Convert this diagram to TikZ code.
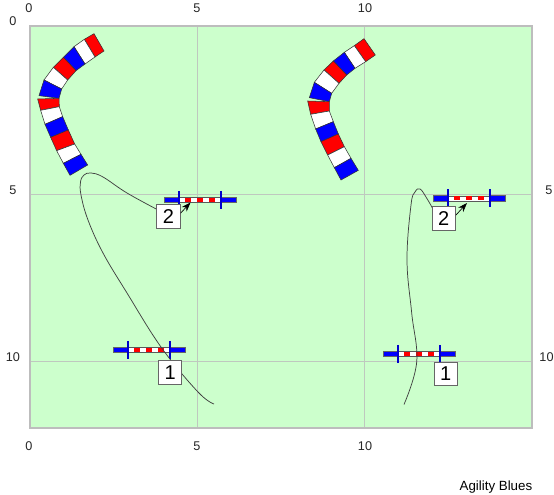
\documentclass[tikz,border=0pt]{standalone}
\usepackage{fontspec}
\setmainfont{Liberation Sans}
\usetikzlibrary{arrows.meta}

\definecolor{fieldgreen}{HTML}{CCFFCC}
\definecolor{gridgrey}{HTML}{BFC8BF}
\definecolor{framegrey}{HTML}{BDBDBD}

\tikzset{
  scale label/.style={font=\fontsize{9.5pt}{11pt}\selectfont, text=black!85, inner sep=0pt},
  number/.style={draw=black!60, fill=white, line width=.75pt, minimum size=17.5pt, inner sep=0pt,
    font=\fontsize{15pt}{17pt}\selectfont},
  course/.style={draw=black!75, line width=.55pt},
  lead/.style={-{Stealth[length=7pt,width=5pt]}, draw=black, line width=.5pt},
  segment/.style={draw=black!80, line width=.4pt},
  hurdle/.pic={
    % wings, bar and uprights, drawn from the left upright
    \fill[blue, draw=black!60, line width=.5pt] (-15,-2.7) rectangle (0,2.7);
    \fill[blue, draw=black!60, line width=.5pt] (42,-2.7) rectangle (57,2.7);
    \fill[white, draw=black!65, line width=.6pt] (0,-2.5) rectangle (42,2.5);
    \foreach \barx in {6,17.5,29.5}
      \fill[red] (\barx,-2) rectangle (\barx+6,2);
    \draw[blue!80!black, line width=1.6pt] (0,-9) -- (0,9);
    \draw[blue!80!black, line width=1.6pt] (42,-9) -- (42,9);
  }
}

\begin{document}
\begin{tikzpicture}[x=.75pt,y=-.75pt]
  \useasboundingbox (0,0) rectangle (554,495);

% the field and its grid
  \fill[fieldgreen] (30,26) rectangle (532,428);
  \draw[gridgrey, line width=.75pt] (197.5,26) -- (197.5,428) (364.5,26) -- (364.5,428)
        (30,194.5) -- (532,194.5) (30,361.5) -- (532,361.5);
  \draw[framegrey, line width=1.5pt] (30,26) rectangle (532.3,428.3);

% scale along the edges
  \foreach \tick/\tickx in {0/29,5/197,10/365}{
    \node[scale label] (top\tick) at (\tickx,8) {\tick};
    \node[scale label] (bottom\tick) at (\tickx,446) {\tick};
  }
  \foreach \tick/\ticky in {0/21,5/190,10/357}
    \node[scale label] (left\tick) at (13,\ticky) {\tick};
  \foreach \tick/\tickx/\ticky in {5/549/190,10/546.5/357}
    \node[scale label] (right\tick) at (\tickx,\ticky) {\tick};

% the tunnels, one segment at a time
  \begin{scope}[x=.25pt,y=-.25pt]
    \foreach \col/\pa/\pb/\pc/\pd in {
      red/{253,118}/{282,101}/{312,153}/{285,171},
      white/{222,140}/{253,118}/{285,171}/{255,192},
      blue/{190,172}/{222,140}/{255,192}/{228,212},
      red/{160,202}/{190,172}/{228,212}/{203,240},
      white/{132,240}/{160,202}/{203,240}/{185,267},
      blue/{117,287}/{132,240}/{185,267}/{177,295},
      red/{113,297}/{177,295}/{178,320}/{122,331},
      white/{122,331}/{178,320}/{188,350}/{135,373},
      blue/{135,373}/{188,350}/{205,390}/{152,412},
      red/{152,412}/{205,390}/{224,432}/{170,452},
      white/{170,452}/{224,432}/{243,463}/{190,490},
      blue/{190,490}/{243,463}/{263,495}/{210,526}}
      \filldraw[segment, fill=\col] (\pa) -- (\pb) -- (\pc) -- (\pd) -- cycle;
  \end{scope}
  \begin{scope}[shift={(295,25)},x=.25pt,y=-.25pt]
    \foreach \col/\pa/\pb/\pc/\pd in {
      red/{178,62}/{207,41}/{241,90}/{212,110},
      white/{148,82}/{178,62}/{212,110}/{180,130},
      blue/{115,108}/{148,82}/{180,130}/{155,150},
      red/{87,135}/{115,108}/{155,150}/{132,175},
      white/{58,172}/{87,135}/{132,175}/{110,205},
      blue/{43,218}/{58,172}/{110,205}/{103,230},
      red/{38,228}/{103,230}/{103,258}/{47,268},
      white/{47,268}/{103,258}/{115,290}/{62,312},
      blue/{62,312}/{115,290}/{130,327}/{78,350},
      red/{78,350}/{130,327}/{148,365}/{98,390},
      white/{98,390}/{148,365}/{168,400}/{118,428},
      blue/{118,428}/{168,400}/{190,436}/{138,465}}
      \filldraw[segment, fill=\col] (\pa) -- (\pb) -- (\pc) -- (\pd) -- cycle;
  \end{scope}

% the jumps
  \pic at (128,350) {hurdle};
  \pic at (179,200) {hurdle};
  \pic at (398,354) {hurdle};
  \pic at (448,198.5) {hurdle};

  \coordinate (startleft)  at (214,404);
  \coordinate (endleft)    at (160,211);
  \coordinate (startright) at (404,404.5);
  \coordinate (endright)   at (433,209);
  \coordinate (jumpleft)   at (190.5,202.5);
  \coordinate (jumpright)  at (467,203);

% define the course
  \draw[course] plot[smooth, tension=.65] coordinates {(startleft) (198,392)
    (161.7,348) (127,293) (103,253) (88,220) (81,195) (80.5,182) (84,175) (91,173)
    (103,177) (127,193) (endleft)};
  \draw[course] plot[smooth, tension=.65] coordinates {(startright) (416.7,362)
    (411.7,313) (407,260) (411,205) (415,192) (420,189) (426,197)
    (endright)};

% define the numbers
  \node[number] (oneleft)  at (170.2,372.5) {1};
  \node[number] (twoleft)  at (168.4,216.5) {2};
  \node[number] (oneright) at (445.8,374) {1};
  \node[number] (tworight) at (443.7,218.4) {2};

  \draw[lead] (twoleft.15) -- (jumpleft);
  \draw[lead] (tworight.15) -- (jumpright);

  \node[anchor=east, inner sep=0pt, font=\fontsize{10pt}{12pt}\selectfont] (credit) at (532.5,487) {Agility Blues};
\end{tikzpicture}
\end{document}
